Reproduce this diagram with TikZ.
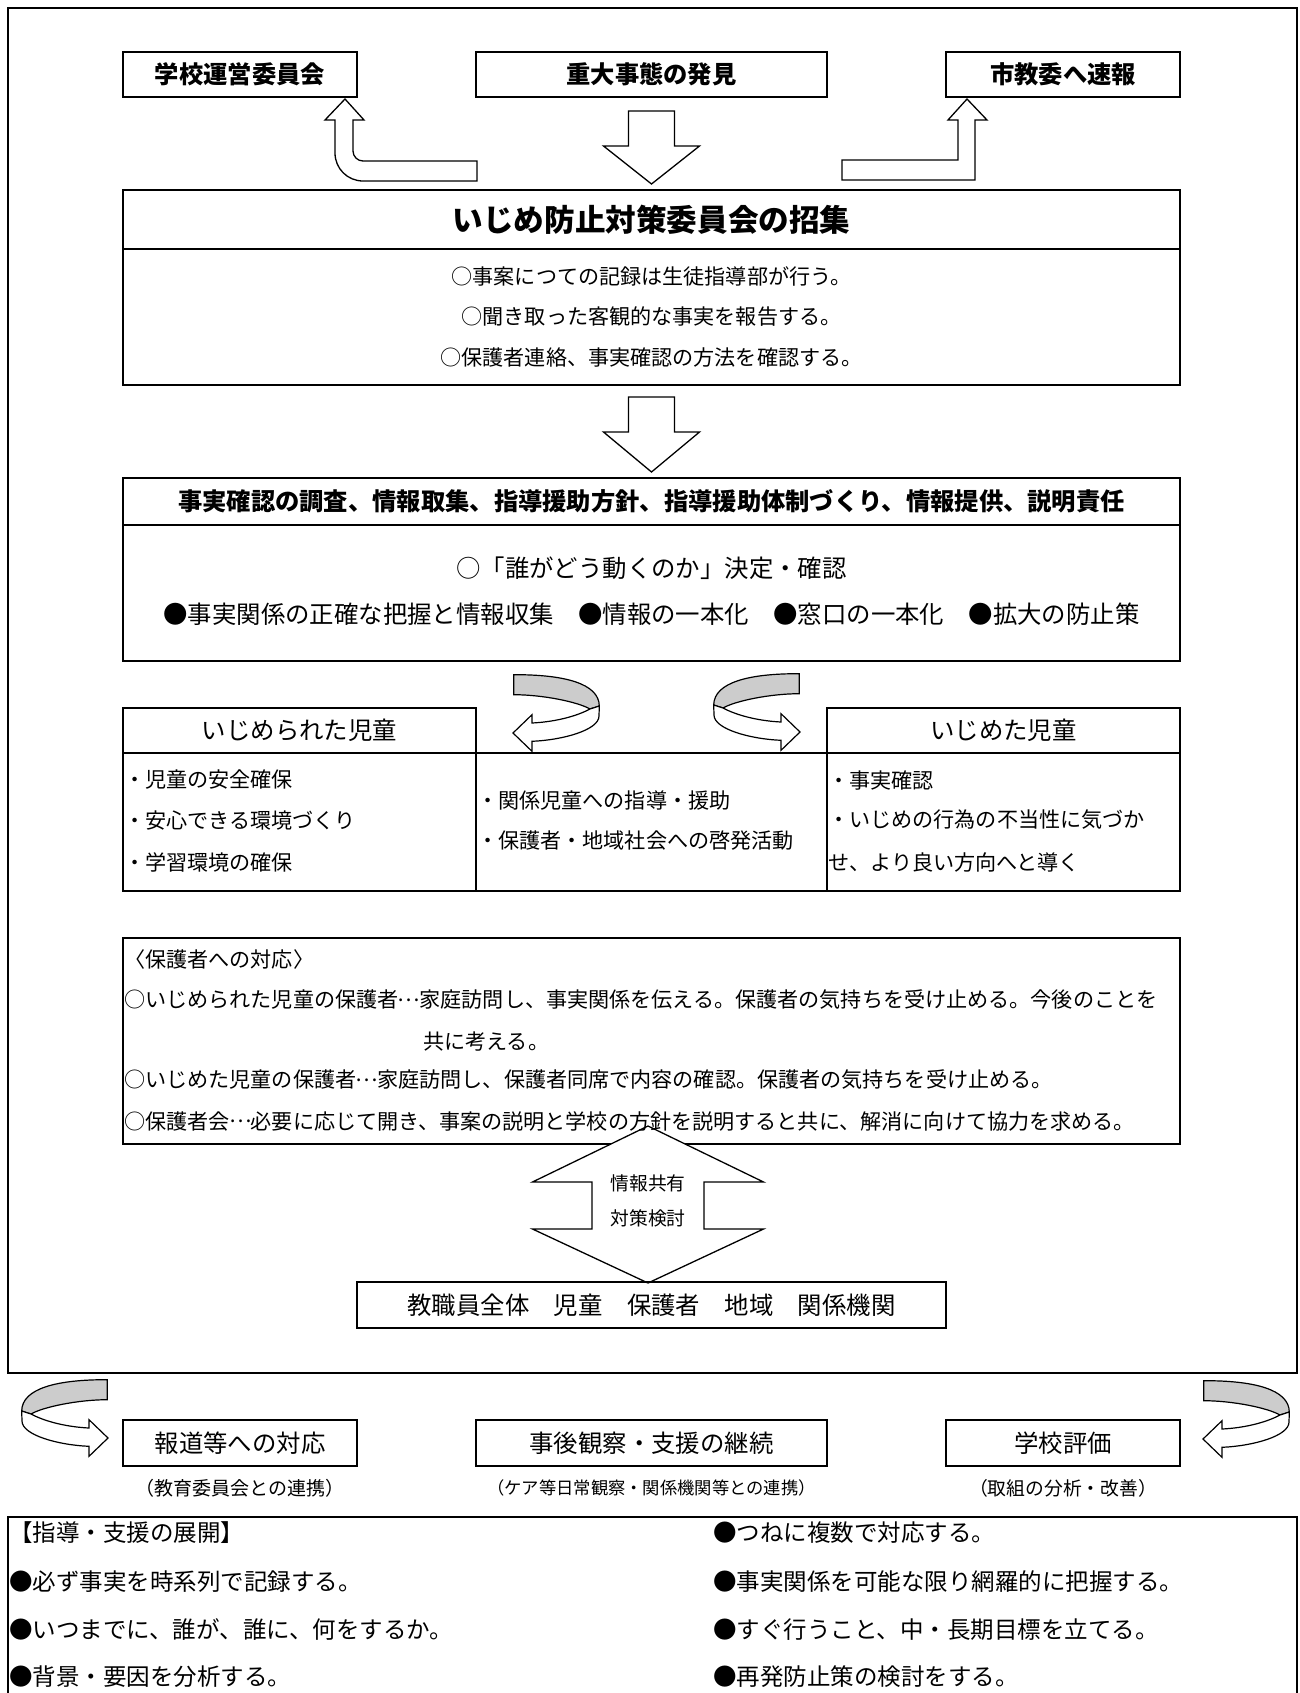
\documentclass[tikz,border=0pt]{standalone}
\usepackage{fontspec}
\setmainfont{Noto Sans CJK JP}
\usetikzlibrary{positioning,calc}

% ellipsis set at mid height, as in Japanese text
\newcommand{\tenten}{\makebox[1em][c]{\raisebox{0.33em}{…}}}

% ribbon arrow, tip at the origin, pointing left
\tikzset{
  pics/twistarrow/.style={code={
    \filldraw[fill=black!20, draw=black, line width=1.2bp]
      (0.7,-58.3) .. controls (50,-58.5) and (86,-50) .. (86.3,-27)
      -- (77,-24) .. controls (65,-31) and (30,-38.3) .. (0.7,-38.3) -- cycle;
    \filldraw[fill=white, draw=black, line width=1.2bp, line join=miter]
      (86.3,-27) -- (86,-17) .. controls (86,-3) and (50,7) .. (19,8.3)
      -- (19,18.3) -- (0,0) -- (19,-18.3) -- (19,-10)
      .. controls (40,-11) and (62,-16) .. (77,-24) -- cycle;
  }}
}

\begin{document}
\begin{tikzpicture}[x=1bp, y=-1bp,
    boxline/.style={draw, line width=1.6bp},
    boxnode/.style={draw, line width=1.6bp, minimum height=45bp, inner sep=0pt},
    blockarrow/.style={draw, fill=white, line width=1.3bp, line join=miter},
    titletext/.style={font=\bfseries\fontsize{30.6bp}{34bp}\selectfont, inner sep=0pt},
    headtext/.style={font=\bfseries\fontsize{24.3bp}{28bp}\selectfont, inner sep=0pt},
    bigtext/.style={font=\fontsize{24.4bp}{28bp}\selectfont, inner sep=0pt},
    bodytext/.style={font=\fontsize{21.1bp}{25bp}\selectfont, inner sep=0pt},
    listtext/.style={font=\fontsize{23.5bp}{28bp}\selectfont, inner sep=0pt, anchor=west}]
      % Sizes
      \def\boxl{123}   % left edge of inner boxes
      \def\boxr{1180}  % right edge of inner boxes
      \def\cola{476}
      \def\colb{827}
      \def\midx{651.5}

      \useasboundingbox (0,0) rectangle (1300,1693);

      % Outer frame
      \draw[boxline] (8,8) rectangle (1297,1373);

      % Top row
      \node[boxnode, headtext, minimum width=234bp] (school) at (240,74.5) {学校運営委員会};
      \node[boxnode, headtext, minimum width=351bp] (find) at (\midx,74.5) {重大事態の発見};
      \node[boxnode, headtext, minimum width=234bp] (report) at (1063,74.5) {市教委へ速報};

      % Block arrows under the top row
      \draw[blockarrow] (345,99) -- (364,120) -- (353,120) -- (353,151)
        .. controls (353,156.5) and (357.5,161) .. (363,161) -- (477,161) -- (477,181) -- (363,181)
        .. controls (347.5,181) and (335,168.5) .. (335,153) -- (335,120) -- (325,120) -- cycle;
      \draw[blockarrow] (967,99) -- (987,120) -- (975,120) -- (975,180) -- (842,180)
        -- (842,160) -- (958,160) -- (958,120) -- (948,120) -- cycle;
      \draw[blockarrow] (628.5,111) -- (674.5,111) -- (674.5,146) -- (699.5,146)
        -- (\midx,184) -- (603.5,146) -- (628.5,146) -- cycle;

      % Committee box
      \draw[boxline] (\boxl,190) rectangle (\boxr,385);
      \draw[boxline] (\boxl,249) -- (\boxr,249);
      \node[titletext] (conv) at (\midx,219.5) {いじめ防止対策委員会の招集};
      \node[bodytext] (rec) at (\midx,276) {○事案につての記録は生徒指導部が行う。};
      \node[bodytext] (hear) at (\midx,317) {○聞き取った客観的な事実を報告する。};
      \node[bodytext] (call) at (\midx,357) {○保護者連絡、事実確認の方法を確認する。};

      \draw[blockarrow] (628.5,397) -- (674.5,397) -- (674.5,432) -- (699.5,432)
        -- (\midx,472) -- (603.5,432) -- (628.5,432) -- cycle;

      % Investigation box
      \draw[boxline] (\boxl,478) rectangle (\boxr,661);
      \draw[boxline] (\boxl,525) -- (\boxr,525);
      \node[headtext] (task) at (\midx,501.5) {事実確認の調査、情報取集、指導援助方針、指導援助体制づくり、情報提供、説明責任};
      \node[bigtext] (who) at (\midx,568) {○「誰がどう動くのか」決定・確認};
      \node[bigtext] (pts) at (\midx,614) {●事実関係の正確な把握と情報収集　●情報の一本化　●窓口の一本化　●拡大の防止策};

      % Three columns
      \draw[boxline] (\boxl,708) rectangle (\cola,753);
      \draw[boxline] (\colb,708) rectangle (\boxr,753);
      \draw[boxline] (\boxl,753) rectangle (\boxr,891);
      \draw[boxline] (\cola,753) -- (\cola,891);
      \draw[boxline] (\colb,753) -- (\colb,891);
      \node[bigtext] (victim) at (299.5,730.5) {いじめられた児童};
      \node[bigtext] (bully) at (1003.5,730.5) {いじめた児童};
      \pic at (513,733) {twistarrow};
      \pic[xscale=-1] at (800,732) {twistarrow};

      \node[bodytext, anchor=west] (v1) at (124,780) {・児童の安全確保};
      \node[bodytext, anchor=west] (v2) at (124,820) {・安心できる環境づくり};
      \node[bodytext, anchor=west] (v3) at (124,862) {・学習環境の確保};
      \node[bodytext, anchor=west] (m1) at (477,801) {・関係児童への指導・援助};
      \node[bodytext, anchor=west] (m2) at (477,841) {・保護者・地域社会への啓発活動};
      \node[bodytext, anchor=west] (b1) at (828,780) {・事実確認};
      \node[bodytext, anchor=west] (b2) at (828,820) {・いじめの行為の不当性に気づか};
      \node[bodytext, anchor=west] (b3) at (828,862) {せ、より良い方向へと導く};

      % Parents box
      \draw[boxline] (\boxl,938) rectangle (\boxr,1144);
      \draw[blockarrow] (648,1126) -- (763.5,1182) -- (704,1182) -- (704,1229) -- (763.5,1229)
        -- (648,1283) -- (532.5,1229) -- (592,1229) -- (592,1182) -- (532.5,1182) -- cycle;
      \node[bodytext, anchor=west] (pgh) at (124,959) {〈保護者への対応〉};
      \node[bodytext, anchor=west] (pg1) at (124,1000) {○いじめられた児童の保護者\tenten 家庭訪問し、事実関係を伝える。保護者の気持ちを受け止める。今後のことを};
      \node[bodytext, anchor=west] (pg1b) at (423,1041) {共に考える。};
      \node[bodytext, anchor=west] (pg2) at (124,1080) {○いじめた児童の保護者\tenten 家庭訪問し、保護者同席で内容の確認。保護者の気持ちを受け止める。};
      \node[bodytext, anchor=west] (pg3) at (124,1121) {○保護者会\tenten 必要に応じて開き、事案の説明と学校の方針を説明すると共に、解消に向けて協力を求める。};
      \node[font=\fontsize{18.8bp}{22bp}\selectfont, inner sep=0pt] (share) at (648,1183) {情報共有};
      \node[font=\fontsize{18.8bp}{22bp}\selectfont, inner sep=0pt] (plan) at (648,1218) {対策検討};

      \node[boxnode, bigtext, minimum width=589bp, minimum height=46bp] (staff) at (\midx,1305) {教職員全体　児童　保護者　地域　関係機関};

      % Follow-up row
      \node[boxnode, bigtext, minimum width=234bp, minimum height=46bp] (press) at (240,1443) {報道等への対応};
      \node[boxnode, bigtext, minimum width=351bp, minimum height=46bp] (follow) at (\midx,1443) {事後観察・支援の継続};
      \node[boxnode, bigtext, minimum width=234bp, minimum height=46bp] (eval) at (1063,1443) {学校評価};
      \node[font=\fontsize{19bp}{22bp}\selectfont, inner sep=0pt] (pressnote) at (240,1488) {（教育委員会との連携）};
      \node[font=\fontsize{17.3bp}{20bp}\selectfont, inner sep=0pt] (follownote) at (\midx,1488) {（ケア等日常観察・関係機関等との連携）};
      \node[font=\fontsize{18.8bp}{22bp}\selectfont, inner sep=0pt] (evalnote) at (1063,1488) {（取組の分析・改善）};
      \pic[xscale=-1] at (108,1438) {twistarrow};
      \pic at (1203,1439) {twistarrow};

      % Guidance list
      \draw[boxline] (8,1517) rectangle (1297,1700);
      \node[listtext] (g0) at (9,1533) {【指導・支援の展開】};
      \node[listtext] (g1) at (9,1582) {●必ず事実を時系列で記録する。};
      \node[listtext] (g2) at (9,1630) {●いつまでに、誰が、誰に、何をするか。};
      \node[listtext] (g3) at (9,1677) {●背景・要因を分析する。};
      \node[listtext] (h0) at (713,1533) {●つねに複数で対応する。};
      \node[listtext] (h1) at (713,1582) {●事実関係を可能な限り網羅的に把握する。};
      \node[listtext] (h2) at (713,1630) {●すぐ行うこと、中・長期目標を立てる。};
      \node[listtext] (h3) at (713,1677) {●再発防止策の検討をする。};
    \end{tikzpicture}
\end{document}
